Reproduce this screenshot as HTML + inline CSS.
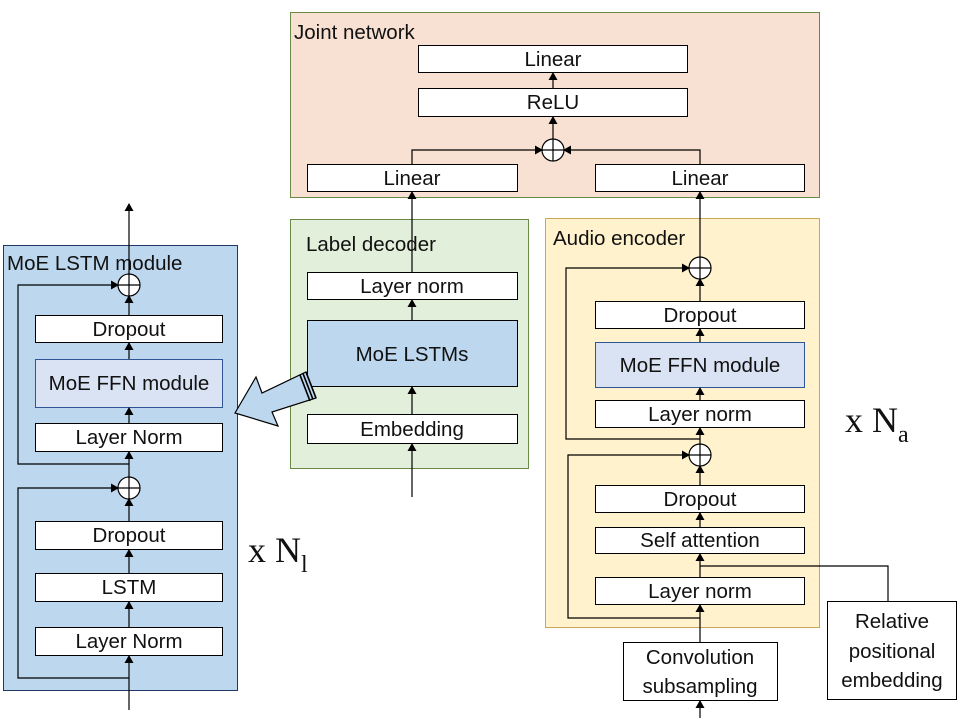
<!DOCTYPE html>
<html><head><style>body{margin:0;background:#fff}svg{display:block}text{font-family:"Liberation Sans",sans-serif;font-size:20.5px;fill:#111}</style></head><body>
<svg width="960" height="720" viewBox="0 0 960 720" xmlns="http://www.w3.org/2000/svg">
<defs><marker id="a" markerWidth="8" markerHeight="9" refX="7" refY="4.5" orient="auto" markerUnits="userSpaceOnUse"><path d="M0,0 L8,4.5 L0,9 z" fill="#000"/></marker></defs>
<!-- Joint network -->
<rect x="290.5" y="12.5" width="529" height="185" fill="#f8e0d2" stroke="#6a8a4a"/>
<text x="294" y="39">Joint network</text>
<g fill="#fff" stroke="#000">
<rect x="418.5" y="45.5" width="269" height="27"/><rect x="418.5" y="88.5" width="269" height="28"/>
<rect x="307.5" y="164.5" width="210" height="27"/><rect x="595.5" y="164.5" width="209" height="27"/>
</g>
<g text-anchor="middle"><text x="553" y="66">Linear</text><text x="553" y="109">ReLU</text><text x="412" y="185">Linear</text><text x="700" y="185">Linear</text></g>
<!-- Label decoder -->
<rect x="290.5" y="219.5" width="238" height="249" fill="#e2efda" stroke="#6a8a4a"/>
<text x="306" y="251">Label decoder</text>
<rect x="307.5" y="272.5" width="210" height="27" fill="#fff" stroke="#000"/>
<rect x="307.5" y="320.5" width="210" height="66" fill="#bdd7ee" stroke="#000"/>
<rect x="307.5" y="414.5" width="210" height="29" fill="#fff" stroke="#000"/>
<g text-anchor="middle"><text x="412" y="293">Layer norm</text><text x="412" y="361">MoE LSTMs</text><text x="412" y="436">Embedding</text></g>
<!-- Audio encoder -->
<rect x="545.5" y="218.5" width="274" height="409" fill="#fff2cc" stroke="#c9a857"/>
<text x="553" y="245">Audio encoder</text>
<g fill="#fff" stroke="#000">
<rect x="595.5" y="301.5" width="209" height="27"/>
<rect x="595.5" y="342.5" width="209" height="45" fill="#dae3f3" stroke="#2f5597"/>
<rect x="595.5" y="400.5" width="209" height="27"/>
<rect x="595.5" y="485.5" width="209" height="27"/>
<rect x="595.5" y="527.5" width="209" height="26"/>
<rect x="595.5" y="577.5" width="209" height="27"/>
<rect x="623.5" y="642.5" width="154" height="58"/>
<rect x="827.5" y="601.5" width="129" height="98"/>
</g>
<g text-anchor="middle"><text x="700" y="322">Dropout</text><text x="700" y="372">MoE FFN module</text><text x="700" y="421">Layer norm</text><text x="700" y="506">Dropout</text><text x="700" y="547">Self attention</text><text x="700" y="598">Layer norm</text><text x="700" y="664">Convolution</text><text x="700" y="693">subsampling</text><text x="892" y="628">Relative</text><text x="892" y="658">positional</text><text x="892" y="687">embedding</text></g>
<!-- MoE LSTM module -->
<rect x="3.5" y="245.5" width="234" height="445" fill="#bdd7ee" stroke="#1f3864"/>
<text x="7" y="270">MoE LSTM module</text>
<g fill="#fff" stroke="#000">
<rect x="35.5" y="315.5" width="187" height="27"/>
<rect x="35.5" y="359.5" width="187" height="48" fill="#dae3f3" stroke="#2f5597"/>
<rect x="35.5" y="423.5" width="187" height="28"/>
<rect x="35.5" y="521.5" width="187" height="28"/>
<rect x="35.5" y="573.5" width="187" height="28"/>
<rect x="35.5" y="627.5" width="187" height="28"/>
</g>
<g text-anchor="middle"><text x="129" y="336">Dropout</text><text x="129" y="390">MoE FFN module</text><text x="129" y="444">Layer Norm</text><text x="129" y="542">Dropout</text><text x="129" y="594">LSTM</text><text x="129" y="648">Layer Norm</text></g>
<!-- connectors -->
<g stroke="#000" stroke-width="1.2" fill="none" marker-end="url(#a)">
<line x1="553" y1="139" x2="553" y2="117"/><line x1="553" y1="88" x2="553" y2="73"/>
<polyline points="412,164 412,150 542,150"/><polyline points="700,164 700,150 564,150"/>
<line x1="412" y1="272" x2="412" y2="192"/><line x1="412" y1="320" x2="412" y2="300"/>
<line x1="412" y1="414" x2="412" y2="387"/><line x1="412" y1="497" x2="412" y2="444"/>
<line x1="700" y1="257" x2="700" y2="192"/><line x1="700" y1="301" x2="700" y2="279"/>
<line x1="700" y1="342" x2="700" y2="329"/><line x1="700" y1="400" x2="700" y2="388"/>
<line x1="700" y1="485" x2="700" y2="466"/><line x1="700" y1="527" x2="700" y2="513"/>
<line x1="700" y1="577" x2="700" y2="554"/><line x1="700" y1="642" x2="700" y2="605"/>
<line x1="700" y1="718" x2="700" y2="701"/>
<line x1="700" y1="444" x2="700" y2="428"/>
<polyline points="700,439 566,439 566,268 689,268"/>
<polyline points="700,618 568,618 568,455 689,455"/>
<polyline points="888,601 888,566 700,566" marker-end="none"/>
<line x1="129" y1="274" x2="129" y2="204"/><line x1="129" y1="315" x2="129" y2="296"/>
<line x1="129" y1="359" x2="129" y2="343"/><line x1="129" y1="423" x2="129" y2="408"/>
<line x1="129" y1="477" x2="129" y2="452"/><line x1="129" y1="521" x2="129" y2="499"/>
<line x1="129" y1="573" x2="129" y2="550"/><line x1="129" y1="627" x2="129" y2="602"/>
<line x1="129" y1="710" x2="129" y2="656"/>
<polyline points="129,464 18,464 18,285 118,285"/>
<polyline points="129,678 18,678 18,488 118,488"/>
</g>
<!-- sum circles -->
<g fill="#fff" stroke="#000" stroke-width="1.2">
<circle cx="553" cy="150" r="11"/><circle cx="700" cy="268" r="11"/><circle cx="700" cy="455" r="11"/><circle cx="129" cy="285" r="11"/><circle cx="129" cy="488" r="11"/>
</g>
<g stroke="#000" stroke-width="1.2">
<path d="M542,150H564M553,139V161M689,268H711M700,257V279M689,455H711M700,444V466M118,285H140M129,274V296M118,488H140M129,477V499"/>
</g>
<!-- block arrow -->
<polygon points="235,413 256,377 262,393 306,372 316,398 272,412 278,426" fill="#bdd7ee" stroke="#000" stroke-width="1.2"/>
<g stroke="#000" stroke-width="1.6"><line x1="300" y1="375" x2="310" y2="401"/><line x1="303" y1="373.5" x2="313" y2="399.5"/><line x1="306" y1="372" x2="316" y2="398"/></g>
<!-- multipliers -->
<text x="248" y="562" style="font-family:'Liberation Serif',serif;font-size:36px">x N<tspan dy="10" style="font-size:24px">l</tspan></text>
<text x="845" y="432" style="font-family:'Liberation Serif',serif;font-size:36px">x N<tspan dy="10" style="font-size:24px">a</tspan></text>
</svg>
</body></html>
